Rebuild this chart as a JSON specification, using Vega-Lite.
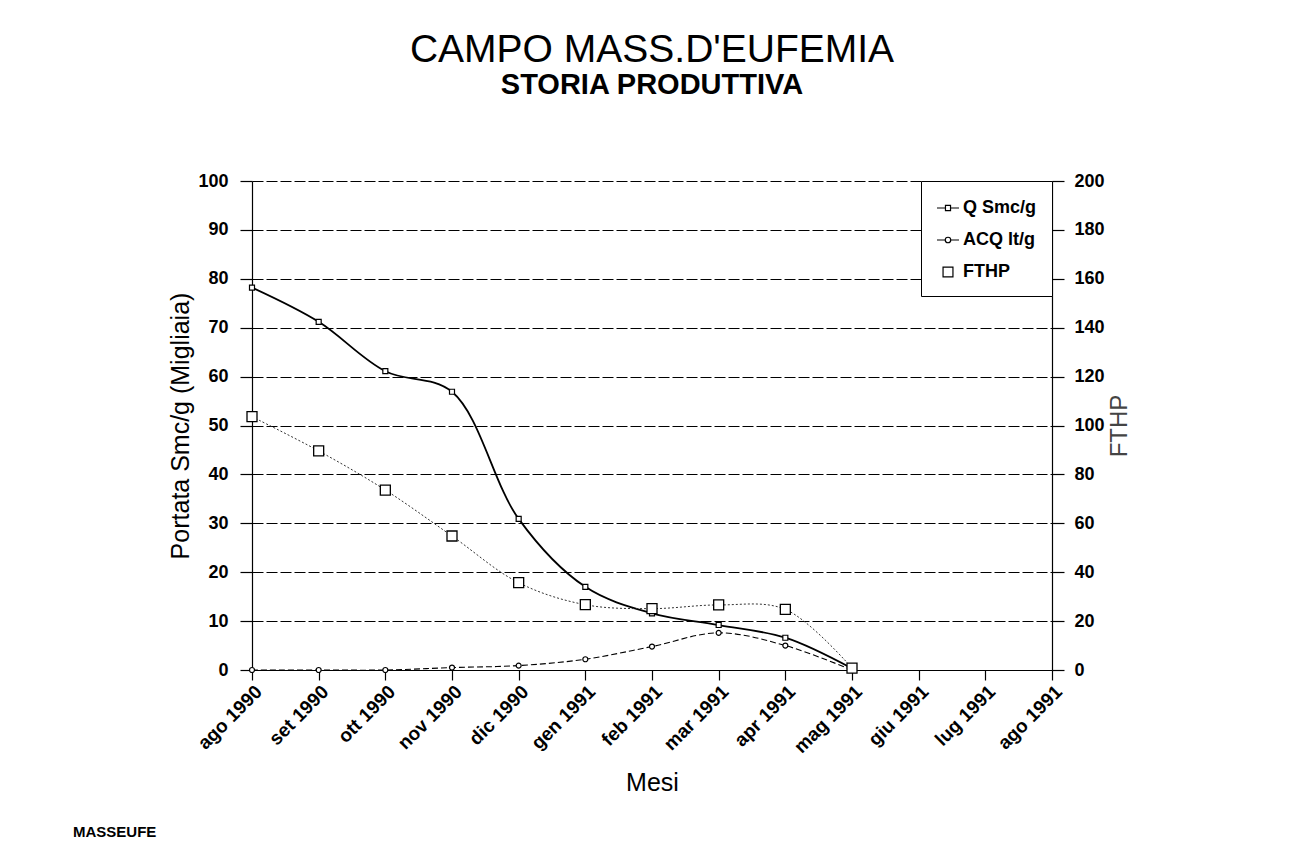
{
  "$schema": "https://vega.github.io/schema/vega-lite/v6.json",
  "width": 800,
  "height": 489,
  "autosize": {"type": "none"},
  "padding": {"left": 252, "top": 181, "right": 242, "bottom": 190},
  "background": "white",
  "title": {
    "text": "CAMPO MASS.D'EUFEMIA",
    "subtitle": "STORIA PRODUTTIVA",
    "anchor": "middle",
    "fontSize": 39,
    "fontWeight": "normal",
    "color": "black",
    "subtitleFontSize": 29,
    "subtitleFontWeight": "bold",
    "subtitleColor": "black",
    "subtitlePadding": 1,
    "offset": 72
  },
  "config": {
    "font": "Liberation Sans",
    "view": {"stroke": null},
    "axis": {"labelColor": "black", "titleColor": "black", "domainColor": "black", "tickColor": "black", "labelFont": "Liberation Sans", "titleFont": "Liberation Sans"}
  },
  "datasets": {
    "serie": [
      {"mese": "ago 1990", "serie": "Q Smc/g", "valore": 78.2},
      {"mese": "set 1990", "serie": "Q Smc/g", "valore": 71.2},
      {"mese": "ott 1990", "serie": "Q Smc/g", "valore": 61.1},
      {"mese": "nov 1990", "serie": "Q Smc/g", "valore": 56.9},
      {"mese": "dic 1990", "serie": "Q Smc/g", "valore": 30.9},
      {"mese": "gen 1991", "serie": "Q Smc/g", "valore": 17.0},
      {"mese": "feb 1991", "serie": "Q Smc/g", "valore": 11.6},
      {"mese": "mar 1991", "serie": "Q Smc/g", "valore": 9.2},
      {"mese": "apr 1991", "serie": "Q Smc/g", "valore": 6.6},
      {"mese": "mag 1991", "serie": "Q Smc/g", "valore": 0.3},
      {"mese": "ago 1990", "serie": "ACQ lt/g", "valore": 0},
      {"mese": "set 1990", "serie": "ACQ lt/g", "valore": 0},
      {"mese": "ott 1990", "serie": "ACQ lt/g", "valore": 0},
      {"mese": "nov 1990", "serie": "ACQ lt/g", "valore": 0.5},
      {"mese": "dic 1990", "serie": "ACQ lt/g", "valore": 0.9},
      {"mese": "gen 1991", "serie": "ACQ lt/g", "valore": 2.2},
      {"mese": "feb 1991", "serie": "ACQ lt/g", "valore": 4.8},
      {"mese": "mar 1991", "serie": "ACQ lt/g", "valore": 7.6},
      {"mese": "apr 1991", "serie": "ACQ lt/g", "valore": 5.0},
      {"mese": "mag 1991", "serie": "ACQ lt/g", "valore": 0},
      {"mese": "ago 1990", "serie": "FTHP", "valore": 103.6},
      {"mese": "set 1990", "serie": "FTHP", "valore": 89.6},
      {"mese": "ott 1990", "serie": "FTHP", "valore": 73.6},
      {"mese": "nov 1990", "serie": "FTHP", "valore": 54.8},
      {"mese": "dic 1990", "serie": "FTHP", "valore": 35.7},
      {"mese": "gen 1991", "serie": "FTHP", "valore": 26.7},
      {"mese": "feb 1991", "serie": "FTHP", "valore": 25.1},
      {"mese": "mar 1991", "serie": "FTHP", "valore": 26.6},
      {"mese": "apr 1991", "serie": "FTHP", "valore": 24.8},
      {"mese": "mag 1991", "serie": "FTHP", "valore": 0.8}
    ],
    "nota": [{"testo": "MASSEUFE", "mese": "ago 1990", "valore": 0}]
  },
  "data": {"name": "serie"},
  "layer": [
    {
      "encoding": {
        "x": {
          "field": "mese", "type": "ordinal", "sort": null,
          "scale": {"type": "point", "padding": 0, "domain": ["ago 1990","set 1990","ott 1990","nov 1990","dic 1990","gen 1991","feb 1991","mar 1991","apr 1991","mag 1991","giu 1991","lug 1991","ago 1991"]},
          "axis": {"title": "Mesi", "titleFontSize": 25, "titleFontWeight": "normal", "titlePadding": 14, "labelAngle": -45, "labelFontSize": 19, "labelFontWeight": "bold", "tickSize": 10, "labelPadding": 2, "grid": false, "domainWidth": 1.2, "tickWidth": 1.2}
        },
        "y": {
          "field": "valore", "type": "quantitative",
          "scale": {"domain": [0, 100], "nice": false, "zero": true},
          "axis": {"title": "Portata Smc/g (Migliaia)", "titleFontSize": 25, "titleFontWeight": "normal", "titlePadding": 4, "values": [0,10,20,30,40,50,60,70,80,90,100], "labelFontSize": 18, "labelFontWeight": "bold", "tickSize": 12, "labelPadding": 12, "grid": true, "gridColor": "black", "gridDash": [11, 3], "gridWidth": 1.1, "gridOpacity": 1, "domainWidth": 1.2, "tickWidth": 1.2}
        }
      },
      "layer": [
        {
          "transform": [{"filter": "datum.serie === 'Q Smc/g'"}],
          "mark": {"type": "line", "interpolate": "catmull-rom", "color": "black", "strokeWidth": 1.8}
        },
        {
          "transform": [{"filter": "datum.serie === 'ACQ lt/g'"}],
          "mark": {"type": "line", "interpolate": "catmull-rom", "color": "black", "strokeWidth": 1.1, "strokeDash": [6, 3]}
        },
        {
          "transform": [{"filter": "datum.serie === 'Q Smc/g'"}],
          "mark": {"type": "point", "shape": "square", "size": 25, "filled": true, "fill": "white", "stroke": "black", "strokeWidth": 1.2, "opacity": 1}
        },
        {
          "transform": [{"filter": "datum.serie === 'ACQ lt/g'"}],
          "mark": {"type": "point", "shape": "circle", "size": 25, "filled": true, "fill": "white", "stroke": "black", "strokeWidth": 1.2, "opacity": 1}
        },
        {
          "mark": {"type": "point", "filled": false, "color": "black", "strokeWidth": 1.2, "opacity": 1, "clip": true},
          "encoding": {
            "y": {"datum": 180},
            "shape": {
              "field": "serie", "type": "nominal",
              "scale": {"domain": ["Q Smc/g", "ACQ lt/g", "FTHP"], "range": ["M-1,0H-0.23M0.23,0H1M-0.23,-0.23H0.23V0.23H-0.23Z", "M-1,0H-0.25M0.25,0H1M-0.25,0A0.25,0.25,0,1,0,0.25,0A0.25,0.25,0,1,0,-0.25,0Z", "M-0.45,-0.45H0.45V0.45H-0.45Z"]},
              "legend": {
                "title": null, "orient": "top-right", "offset": 0,
                "labelFontSize": 18, "labelFontWeight": "bold", "labelColor": "black", "labelOffset": 3,
                "symbolSize": 484, "symbolStrokeWidth": 1.2, "symbolStrokeColor": "black", "symbolOpacity": 1,
                "padding": 15, "rowPadding": 11, "strokeColor": "black", "fillColor": "white"
              }
            }
          }
        },
        {
          "data": {"name": "nota"},
          "mark": {"type": "text", "align": "left", "baseline": "middle", "fontSize": 15, "fontWeight": "bold", "color": "black", "dx": -179, "dy": 162},
          "encoding": {
            "x": {"field": "mese", "type": "ordinal"},
            "y": {"field": "valore", "type": "quantitative"},
            "text": {"field": "testo", "type": "nominal"}
          }
        }
      ]
    },
    {
      "transform": [{"filter": "datum.serie === 'FTHP'"}],
      "encoding": {
        "x": {"field": "mese", "type": "ordinal", "sort": null},
        "y": {
          "field": "valore", "type": "quantitative",
          "scale": {"domain": [0, 200], "nice": false},
          "axis": {"orient": "right", "title": "FTHP", "titleAngle": 270, "titleBaseline": "top", "titleFontSize": 24, "titleFontWeight": "normal", "titleColor": "#444", "titlePadding": 3, "values": [0,20,40,60,80,100,120,140,160,180,200], "labelFontSize": 18, "labelFontWeight": "bold", "tickSize": 12, "labelPadding": 10, "grid": false, "domainWidth": 1.2, "tickWidth": 1.2}
        }
      },
      "layer": [
        {"mark": {"type": "line", "interpolate": "catmull-rom", "color": "#333", "strokeWidth": 1, "strokeDash": [2, 2]}},
        {"mark": {"type": "point", "shape": "square", "size": 100, "filled": true, "fill": "white", "stroke": "black", "strokeWidth": 1.3, "opacity": 1}}
      ]
    }
  ],
  "resolve": {"scale": {"y": "independent"}}
}
